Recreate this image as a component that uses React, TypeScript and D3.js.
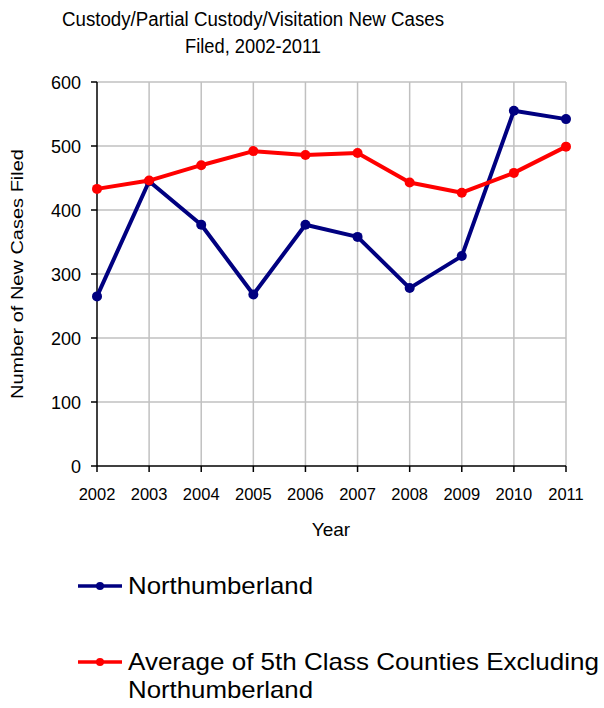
import * as d3 from 'd3'

const years = [2002, 2003, 2004, 2005, 2006, 2007, 2008, 2009, 2010, 2011]
const northumberland = [265, 445, 377, 268, 377, 358, 278, 328, 555, 542]
const fifthClassAvg = [433, 446, 470, 492, 486, 489, 443, 427, 458, 499]
const yTicks = [0, 100, 200, 300, 400, 500, 600]

const titleLines = ['Custody/Partial Custody/Visitation New  Cases', 'Filed, 2002-2011']
const seriesNames = ['Northumberland', 'Average of 5th Class Counties Excluding', 'Northumberland']

const FONT = '"Liberation Sans", Arial, sans-serif'
const NAVY = '#000080'
const RED = '#ff0000'

const width = 604
const height = 708
const margin = { left: 97, right: 38, top: 82, bottom: 242 }

const App = () => {
  const x = d3
    .scalePoint<number>()
    .domain(years)
    .range([margin.left, width - margin.right])

  const y = d3
    .scaleLinear()
    .domain([0, 600])
    .range([height - margin.bottom, margin.top])

  const line = d3
    .line<number>()
    .x((_, i) => x(years[i]) as number)
    .y(d => y(d))

  const series = [
    { values: northumberland, color: NAVY },
    { values: fifthClassAvg, color: RED },
  ]

  const x0 = margin.left
  const x1 = width - margin.right
  const y0 = y(0)

  return (
    <svg
      width={width}
      height={height}
      style={{ position: 'absolute', left: 0, top: 0, background: '#fff' }}
      fontFamily={FONT}
    >
      <rect width={width} height={height} fill="#fff" />

      {/* title */}
      <text x={253} y={26} fontSize={20} textAnchor="middle" fill="#000" textLength={382} lengthAdjust="spacingAndGlyphs">
        {titleLines[0]}
      </text>
      <text x={253} y={53} fontSize={20} textAnchor="middle" fill="#000" textLength={136} lengthAdjust="spacingAndGlyphs">
        {titleLines[1]}
      </text>

      {/* grid */}
      {yTicks.slice(1).map(t => (
        <line key={'h' + t} x1={x0} x2={x1} y1={y(t)} y2={y(t)} stroke="#c0c0c0" strokeWidth={1.5} />
      ))}
      {years.slice(1).map(yr => (
        <line
          key={'v' + yr}
          x1={x(yr)}
          x2={x(yr)}
          y1={y(600)}
          y2={y0}
          stroke="#c0c0c0"
          strokeWidth={1.5}
        />
      ))}

      {/* axes */}
      <line x1={x0} x2={x0} y1={y(600)} y2={y0} stroke="#000" strokeWidth={1.5} />
      <line x1={x0} x2={x1} y1={y0} y2={y0} stroke="#000" strokeWidth={1.5} />
      {yTicks.map(t => (
        <g key={'yt' + t}>
          <line x1={x0 - 6} x2={x0} y1={y(t)} y2={y(t)} stroke="#000" strokeWidth={1.5} />
          <text x={81} y={y(t) + 6.5} fontSize={18} textAnchor="end" fill="#000">
            {t}
          </text>
        </g>
      ))}
      {years.map(yr => (
        <g key={'xt' + yr}>
          <line x1={x(yr)} x2={x(yr)} y1={y0} y2={y0 + 6} stroke="#000" strokeWidth={1.5} />
          <text x={x(yr)} y={500} fontSize={16.5} textAnchor="middle" fill="#000">
            {yr}
          </text>
        </g>
      ))}

      {/* axis titles */}
      <text x={331} y={536} fontSize={19} textAnchor="middle" fill="#000">
        Year
      </text>
      <text
        transform={`translate(23, ${(y(600) + y0) / 2}) rotate(-90)`}
        fontSize={16}
        textAnchor="middle"
        fill="#000"
        textLength={250}
        lengthAdjust="spacingAndGlyphs"
      >
        Number of New Cases Filed
      </text>

      {/* series */}
      {series.map((s, si) => (
        <g key={'s' + si}>
          <path d={line(s.values) as string} fill="none" stroke={s.color} strokeWidth={4} strokeLinejoin="round" />
          {s.values.map((v, i) => (
            <circle key={i} cx={x(years[i])} cy={y(v)} r={5} fill={s.color} />
          ))}
        </g>
      ))}

      {/* legend */}
      <g>
        <line x1={78} x2={122} y1={586} y2={586} stroke={NAVY} strokeWidth={3.5} />
        <circle cx={100} cy={586} r={4} fill={NAVY} />
        <text x={128} y={594} fontSize={24} fill="#000" textLength={185} lengthAdjust="spacingAndGlyphs">
          {seriesNames[0]}
        </text>
        <line x1={78} x2={122} y1={662} y2={662} stroke={RED} strokeWidth={3.5} />
        <circle cx={100} cy={662} r={4} fill={RED} />
        <text x={128} y={670} fontSize={24} fill="#000" textLength={471} lengthAdjust="spacingAndGlyphs">
          {seriesNames[1]}
        </text>
        <text x={128} y={698} fontSize={24} fill="#000" textLength={185} lengthAdjust="spacingAndGlyphs">
          {seriesNames[2]}
        </text>
      </g>
    </svg>
  )
}

export default App
